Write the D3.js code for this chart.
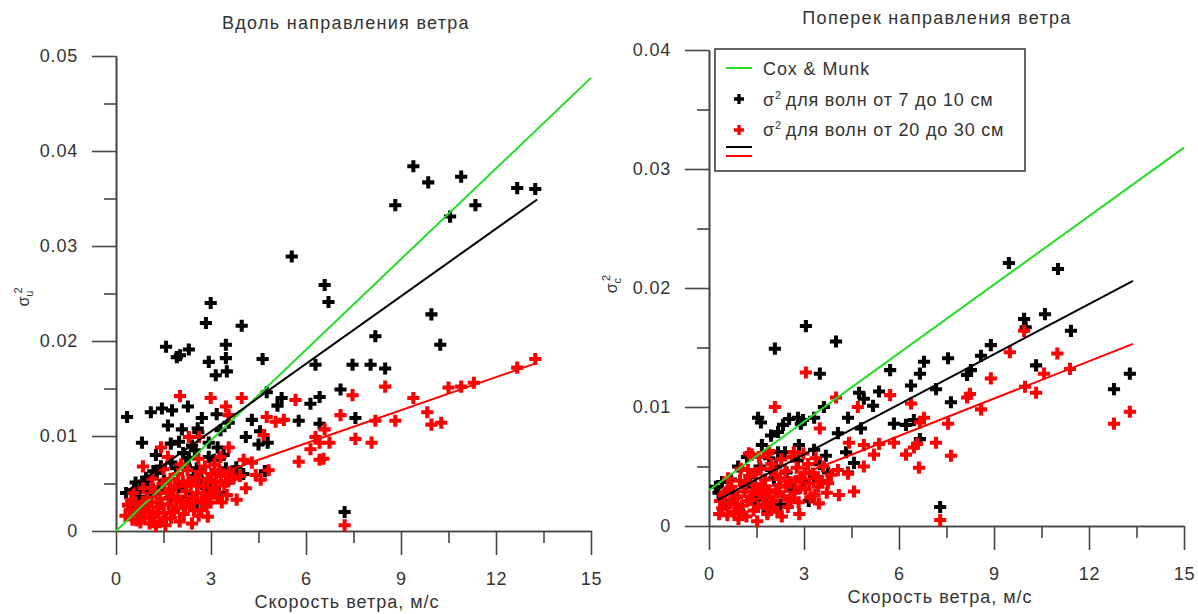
<!DOCTYPE html>
<html>
<head>
<meta charset="utf-8">
<script src="https://cdn.jsdelivr.net/npm/d3@7"></script>
<style>
body { margin: 0; background: #fff; }
svg text { font-family: "Liberation Sans", Arial, sans-serif; fill: #333; }
</style>
</head>
<body>
<svg id="chart" width="1198" height="614"></svg>
<script>
// ticks
const xTicks = [0, 3, 6, 9, 12, 15];
const xMinor = [1.5, 4.5, 7.5, 10.5, 13.5];
const yTicksLeft = [0, 0.01, 0.02, 0.03, 0.04, 0.05];
const yMinorLeft = [0.005, 0.015, 0.025, 0.035, 0.045];
const yTicksRight = [0, 0.01, 0.02, 0.03, 0.04];
const yMinorRight = [0.005, 0.015, 0.025, 0.035];

const titles = ["Вдоль направления ветра", "Поперек направления ветра"];
const xTitle = "Скорость ветра, м/с";
const legendLabels = ["Cox & Munk", "для волн от 7 до 10 см", "для волн от 20 до 30 см"];

// fitted lines [wind, sigma^2]
const coxMunkLeft = [[0, 0], [15, 0.0477]];
const fitBlackLeft = [[0.35, 0.0042], [13.3, 0.0349]];
const fitRedLeft = [[0.2, 0.0025], [13.3, 0.0177]];
const coxMunkRight = [[0, 0.0030], [15, 0.0318]];
const fitBlackRight = [[0.28, 0.0022], [13.39, 0.0206]];
const fitRedRight = [[0.4, 0.0017], [13.39, 0.0153]];

// upwind, waves 7-10 cm
const blackLeft = [
    [9.39, 0.0384], [9.86, 0.0367], [10.9, 0.0373], [8.82, 0.0343], [10.55, 0.0331], [11.35, 0.0343],
    [12.67, 0.0361], [13.24, 0.0360], [6.59, 0.0259], [6.71, 0.0241], [9.96, 0.0228], [10.24, 0.0196],
    [8.19, 0.0205], [6.3, 0.0175], [7.47, 0.0175], [8.04, 0.0175], [8.5, 0.0171], [7.09, 0.0149],
    [6.43, 0.0141], [6.14, 0.0134], [7.56, 0.0119], [5.77, 0.0116], [6.43, 0.0113], [7.22, 0.0020],
    [5.55, 0.0289], [2.99, 0.0240], [2.84, 0.0219], [3.97, 0.0216], [1.58, 0.0194], [1.92, 0.0183],
    [2.02, 0.0185], [2.3, 0.0191], [3.47, 0.0196], [3.47, 0.0182], [2.93, 0.0178], [3.15, 0.0164],
    [3.5, 0.0168], [4.63, 0.0181], [0.35, 0.0120], [1.1, 0.0125], [1.45, 0.0129], [1.77, 0.0127],
    [2.27, 0.0131], [1.64, 0.0111], [2.08, 0.0107], [0.82, 0.0093], [2.58, 0.0108], [2.71, 0.0119],
    [3.18, 0.0123], [3.56, 0.0114], [4.76, 0.0146], [5.23, 0.0140], [5.1, 0.0132], [4.29, 0.0117],
    [4.1, 0.0099], [4.5, 0.0091], [4.79, 0.0093], [1.26, 0.0080], [1.99, 0.0094], [1.73, 0.0092],
    [2.93, 0.0093], [3.21, 0.0088], [2.93, 0.0078], [2.49, 0.0085], [2.3, 0.0077], [4.55, 0.0105],
    [3.3, 0.0106], [2.6, 0.0104], [0.32, 0.0040], [0.57, 0.0043], [0.79, 0.0046], [1.04, 0.0048],
    [0.73, 0.0036], [1.29, 0.0061], [0.95, 0.0056], [1.1, 0.0041], [1.36, 0.0043], [1.9, 0.0066],
    [2.2, 0.0069], [2.55, 0.0066], [3.47, 0.0066], [3.8, 0.0067], [3.78, 0.0061], [2.55, 0.0030],
    [3.02, 0.0048], [3.25, 0.0040], [1.98, 0.0046], [0.5, 0.0030], [0.62, 0.0051], [1.52, 0.0053],
    [1.7, 0.0035], [2.7, 0.0055], [2.45, 0.0058], [3.6, 0.0055], [4.7, 0.0063], [1.42, 0.0068],
    [1.75, 0.0072], [2.12, 0.0082], [2.4, 0.0090], [2.31, 0.0036], [2.84, 0.0045], [3.1, 0.0075],
    [3.4, 0.0080], [0.88, 0.0052], [1.18, 0.0063], [4.02, 0.0060]
];

// upwind, waves 20-30 cm
const redLeft = [
    [13.24, 0.0181], [12.67, 0.0172], [11.3, 0.0156], [10.9, 0.0152], [10.5, 0.0151], [8.5, 0.0152],
    [9.39, 0.0140], [9.83, 0.0125], [9.96, 0.0112], [10.27, 0.0114], [8.82, 0.0116], [8.19, 0.0116],
    [7.47, 0.0143], [7.09, 0.0122], [8.07, 0.0093], [7.56, 0.0097], [6.59, 0.0107], [6.3, 0.0099],
    [6.74, 0.0093], [6.43, 0.0093], [6.14, 0.0086], [6.43, 0.0075], [6.55, 0.0076], [5.77, 0.0073],
    [7.22, 0.0006], [2.02, 0.0142], [2.99, 0.0140], [3.97, 0.0140], [3.47, 0.0131], [3.56, 0.0122],
    [4.76, 0.0120], [5.04, 0.0115], [5.3, 0.0117], [5.67, 0.0138], [2.3, 0.0099], [2.62, 0.0099],
    [1.42, 0.0088], [1.64, 0.0078], [3.56, 0.0088], [4.66, 0.0101], [0.85, 0.0068], [4.03, 0.0075],
    [4.29, 0.0072], [4.82, 0.0064], [4.41, 0.0059], [4.57, 0.0054], [4.1, 0.0045], [3.5, 0.0038],
    [3.81, 0.0033], [3.34, 0.0030],
    [0.3, 0.0016], [0.44, 0.0022], [0.52, 0.0012], [0.61, 0.0030], [0.68, 0.0018], [0.77, 0.0009],
    [0.83, 0.0025], [0.9, 0.0014], [0.97, 0.0035], [1.02, 0.0021], [1.06, 0.0008], [1.13, 0.0030],
    [1.2, 0.0016], [1.24, 0.0042], [1.31, 0.0025], [1.37, 0.0010], [1.4, 0.0034], [1.47, 0.0050],
    [1.51, 0.0019], [1.56, 0.0006], [1.62, 0.0040], [1.66, 0.0028], [1.72, 0.0055], [1.74, 0.0014],
    [1.81, 0.0036], [1.86, 0.0047], [1.91, 0.0024], [1.96, 0.0060], [2.01, 0.0010], [2.06, 0.0032],
    [2.11, 0.0052], [2.14, 0.0018], [2.21, 0.0042], [2.26, 0.0064], [2.32, 0.0028], [2.36, 0.0048],
    [2.41, 0.0036], [2.46, 0.0022], [2.51, 0.0056], [2.56, 0.0040], [2.61, 0.0016], [2.66, 0.0062],
    [2.72, 0.0032], [2.76, 0.0047], [2.81, 0.0068], [2.86, 0.0026], [2.91, 0.0054], [2.95, 0.0038],
    [3.01, 0.0060], [3.06, 0.0045], [3.11, 0.0070], [3.16, 0.0052], [3.22, 0.0035], [3.31, 0.0058],
    [3.42, 0.0048], [3.57, 0.0062], [3.71, 0.0055], [3.92, 0.0058], [1.15, 0.0055], [0.55, 0.0040],
    [2.05, 0.0070], [1.5, 0.0065], [2.6, 0.0076], [3.3, 0.0078], [1.26, 0.0005], [0.86, 0.0045],
    [2.4, 0.0008], [2.9, 0.0015],
    [0.38, 0.0028], [0.65, 0.0011], [0.72, 0.0024], [0.92, 0.0029], [1.08, 0.0015], [1.33, 0.0019],
    [1.44, 0.0028], [1.58, 0.0013], [1.69, 0.0044], [1.83, 0.0020], [1.94, 0.0034], [2.18, 0.0026],
    [2.29, 0.0052], [2.44, 0.0030], [2.58, 0.0048], [2.69, 0.0022], [2.83, 0.0036], [2.97, 0.0030],
    [3.14, 0.0042], [3.26, 0.0064], [3.48, 0.0052], [1.1, 0.0045], [0.48, 0.0033]
];

// crosswind, waves 7-10 cm
const blackRight = [
    [9.47, 0.0221], [11.02, 0.0216], [9.95, 0.0174], [10.0, 0.0167], [10.61, 0.0178], [11.43, 0.0164],
    [10.33, 0.0135], [8.9, 0.0152], [8.59, 0.0143], [8.27, 0.0131], [8.15, 0.0127], [7.55, 0.0141],
    [6.79, 0.0138], [6.66, 0.0128], [6.38, 0.0118], [5.72, 0.0131], [7.17, 0.0115], [7.64, 0.0104],
    [5.84, 0.0086], [6.22, 0.0085], [6.47, 0.0089], [6.66, 0.0073], [12.79, 0.0115], [13.29, 0.0128],
    [7.3, 0.0016], [3.06, 0.0168], [2.08, 0.0149], [4.01, 0.0155], [3.5, 0.0128], [4.74, 0.0112],
    [4.89, 0.0107], [5.18, 0.0101], [5.37, 0.0113], [3.63, 0.0100], [4.39, 0.0091], [4.8, 0.0082],
    [4.07, 0.0078], [3.32, 0.0091], [1.55, 0.0091], [1.64, 0.0087], [2.34, 0.0085], [2.53, 0.0090],
    [2.81, 0.0091], [2.97, 0.0089], [2.9, 0.0086], [1.96, 0.0076], [2.18, 0.0079], [1.67, 0.0068],
    [1.2, 0.0058], [0.92, 0.0050], [0.41, 0.0037], [0.69, 0.0039], [0.22, 0.0033], [2.84, 0.0068],
    [2.18, 0.0062], [1.96, 0.0047], [2.12, 0.0050], [3.32, 0.0064], [3.69, 0.0059], [4.33, 0.0062],
    [4.58, 0.0053], [3.76, 0.0045], [4.39, 0.0045], [3.32, 0.0041],
    [0.3, 0.0028], [0.55, 0.0018], [0.75, 0.0028], [0.95, 0.0013], [1.15, 0.0033], [1.3, 0.0041],
    [1.45, 0.0022], [1.6, 0.0050], [1.75, 0.0031], [1.85, 0.0012], [2.05, 0.0040], [2.25, 0.0018],
    [2.45, 0.0045], [2.65, 0.0030], [2.8, 0.0055], [3.0, 0.0038], [3.15, 0.0021], [3.5, 0.0052],
    [2.4, 0.0062], [1.9, 0.0057]
];

// crosswind, waves 20-30 cm
const redRight = [
    [9.95, 0.0164], [11.0, 0.0145], [9.5, 0.0146], [8.9, 0.0124], [10.58, 0.0128], [11.4, 0.0132],
    [9.98, 0.0117], [10.33, 0.0112], [8.24, 0.0111], [8.15, 0.0108], [8.59, 0.0098], [7.55, 0.0086],
    [6.79, 0.0091], [6.66, 0.0087], [6.38, 0.0103], [5.72, 0.0110], [5.84, 0.0070], [6.22, 0.0060],
    [6.47, 0.0066], [6.57, 0.0069], [6.63, 0.0049], [7.17, 0.0070], [7.64, 0.0059], [12.79, 0.0086],
    [13.29, 0.0096], [7.3, 0.0005], [3.06, 0.0129], [2.08, 0.0100], [4.01, 0.0108], [3.5, 0.0082],
    [4.7, 0.0100], [4.42, 0.0070], [4.89, 0.0068], [5.21, 0.0060], [4.89, 0.0050], [4.07, 0.0047],
    [4.39, 0.0044], [4.58, 0.0029], [4.1, 0.0026], [3.47, 0.0019], [3.76, 0.0036], [3.44, 0.0041],
    [1.26, 0.0061], [1.58, 0.0058], [1.86, 0.0061], [1.23, 0.0047], [2.68, 0.0062], [5.37, 0.0069],
    [0.35, 0.0021], [0.42, 0.0015], [0.5, 0.0028], [0.58, 0.0009], [0.66, 0.0019], [0.71, 0.0033],
    [0.8, 0.0012], [0.86, 0.0025], [0.93, 0.0006], [0.98, 0.0038], [1.05, 0.0017], [1.12, 0.0029],
    [1.18, 0.0008], [1.27, 0.0042], [1.33, 0.0022], [1.41, 0.0013], [1.46, 0.0035], [1.52, 0.0004],
    [1.58, 0.0027], [1.63, 0.0048], [1.71, 0.0018], [1.77, 0.0039], [1.84, 0.0010], [1.9, 0.0030],
    [1.97, 0.0052], [2.03, 0.0021], [2.09, 0.0043], [2.16, 0.0012], [2.22, 0.0034], [2.28, 0.0056],
    [2.35, 0.0025], [2.41, 0.0046], [2.49, 0.0016], [2.55, 0.0037], [2.62, 0.0058], [2.7, 0.0028],
    [2.77, 0.0049], [2.83, 0.0020], [2.91, 0.0040], [2.98, 0.0061], [3.05, 0.0031], [3.13, 0.0052],
    [3.2, 0.0024], [3.28, 0.0044], [3.37, 0.0057], [3.45, 0.0033], [3.6, 0.0050], [3.72, 0.0028],
    [3.85, 0.0043], [1.0, 0.0048], [0.6, 0.0040], [2.3, 0.0008], [1.35, 0.0060], [2.85, 0.0010],
    [1.9, 0.0063],
    [0.32, 0.0010], [0.46, 0.0026], [0.62, 0.0031], [0.75, 0.0022], [0.89, 0.0018], [1.02, 0.0011],
    [1.16, 0.0036], [1.22, 0.0021], [1.38, 0.0029], [1.55, 0.0016], [1.68, 0.0033], [1.8, 0.0024],
    [1.95, 0.0015], [2.12, 0.0028], [2.25, 0.0040], [2.44, 0.0033], [2.58, 0.0022], [2.74, 0.0038],
    [2.88, 0.0032], [3.02, 0.0045], [3.17, 0.0036], [3.33, 0.0026], [3.52, 0.0038], [1.48, 0.0044],
    [2.0, 0.0048]
];

const GREEN = "#22dd22", RED = "#ff0000", BLACK = "#000", AXIS = "#444";
const svg = d3.select("#chart");
const plus = d3.symbol().type(d3.symbolCross);

function fmt(d) {
    return d === 0 ? "0" : d3.format(".2f")(d);
}

function drawPanel(p) {
    let x = d3.scaleLinear().domain([0, 15]).range([p.left, p.left + 475]);
    let y = d3.scaleLinear().domain([0, p.yMax]).range([p.bottom, p.top]);
    let g = svg.append("g");

    // minor ticks first, then major with labels
    g.append("g").attr("transform", `translate(0,${p.bottom})`)
        .call(d3.axisBottom(x).tickValues(xMinor).tickSize(12).tickSizeOuter(0).tickFormat(""));
    g.append("g").attr("transform", `translate(${p.left},0)`)
        .call(d3.axisLeft(y).tickValues(p.yMinor).tickSize(12).tickSizeOuter(0).tickFormat(""));

    g.append("g").attr("transform", `translate(0,${p.bottom})`)
        .call(d3.axisBottom(x).tickValues(xTicks).tickSize(24).tickSizeOuter(0).tickPadding(17));
    g.append("g").attr("transform", `translate(${p.left},0)`)
        .call(d3.axisLeft(y).tickValues(p.yTicks).tickSize(24).tickSizeOuter(0).tickPadding(14).tickFormat(fmt));

    g.selectAll(".domain, .tick line").attr("stroke", AXIS).attr("stroke-width", 1.6);
    g.selectAll(".tick text").style("font-size", "18px").style("letter-spacing", "0.8px").attr("fill", "#333");

    // points
    g.append("g").selectAll("path").data(p.black).join("path")
        .attr("transform", d => `translate(${x(d[0])},${y(d[1])})`)
        .attr("d", plus.size(82)).attr("fill", BLACK);
    g.append("g").selectAll("path").data(p.red).join("path")
        .attr("transform", d => `translate(${x(d[0])},${y(d[1])})`)
        .attr("d", plus.size(82)).attr("fill", RED);

    let line = d3.line().x(d => x(d[0])).y(d => y(d[1]));
    [[p.cox, GREEN], [p.fitBlack, BLACK], [p.fitRed, RED]].forEach(function(l) {
        g.append("path").attr("d", line(l[0])).attr("fill", "none")
            .attr("stroke", l[1]).attr("stroke-width", 2);
    });

    // titles
    g.append("text").attr("x", p.titleX).attr("y", p.titleY).attr("text-anchor", "middle")
        .style("font-size", "18px").style("letter-spacing", "1.3px").text(p.title);
    g.append("text").attr("x", p.left + 231).attr("y", p.bottom + 77).attr("text-anchor", "middle")
        .style("font-size", "18px").style("letter-spacing", "1px").text(xTitle);

    let yl = g.append("text").attr("transform", `translate(${p.yLabelX},${p.yLabelY}) rotate(-90)`)
        .attr("text-anchor", "middle").style("font-size", "16px");
    yl.append("tspan").text("σ");
    yl.append("tspan").attr("dy", 4).style("font-size", "11px").text(p.sub);
    yl.append("tspan").attr("dy", -11).attr("dx", -3).style("font-size", "11px").text("2");
}

drawPanel({
    left: 116, bottom: 531, top: 56, yMax: 0.05,
    yTicks: yTicksLeft, yMinor: yMinorLeft,
    black: blackLeft, red: redLeft,
    cox: coxMunkLeft, fitBlack: fitBlackLeft, fitRed: fitRedLeft,
    title: titles[0], titleX: 346, titleY: 29,
    yLabelX: 29, yLabelY: 297, sub: "u"
});

drawPanel({
    left: 709, bottom: 526, top: 50, yMax: 0.04,
    yTicks: yTicksRight, yMinor: yMinorRight,
    black: blackRight, red: redRight,
    cox: coxMunkRight, fitBlack: fitBlackRight, fitRed: fitRedRight,
    title: titles[1], titleX: 937, titleY: 24,
    yLabelX: 617, yLabelY: 284, sub: "c"
});

// legend
let lg = svg.append("g");
lg.append("rect").attr("x", 715).attr("y", 49).attr("width", 310).attr("height", 122)
    .attr("fill", "#fff").attr("stroke", "#333").attr("stroke-width", 1.5);
lg.append("line").attr("x1", 726).attr("x2", 752).attr("y1", 68).attr("y2", 68)
    .attr("stroke", GREEN).attr("stroke-width", 2);
lg.append("line").attr("x1", 726).attr("x2", 752).attr("y1", 147).attr("y2", 147)
    .attr("stroke", BLACK).attr("stroke-width", 2);
lg.append("line").attr("x1", 726).attr("x2", 752).attr("y1", 156).attr("y2", 156)
    .attr("stroke", RED).attr("stroke-width", 2);
lg.append("path").attr("transform", "translate(739,99)").attr("d", plus.size(55)).attr("fill", BLACK);
lg.append("path").attr("transform", "translate(739,130)").attr("d", plus.size(55)).attr("fill", RED);

lg.append("text").attr("x", 763).attr("y", 75).style("font-size", "18px")
    .style("letter-spacing", "0.9px").text(legendLabels[0]);
[legendLabels[1], legendLabels[2]].forEach(function(lbl, i) {
    let t = lg.append("text").attr("x", 763).attr("y", 106 + i * 30).style("font-size", "18px")
        .style("letter-spacing", "0.8px");
    t.append("tspan").text("σ");
    t.append("tspan").attr("dy", -7).style("font-size", "11px").text("2");
    t.append("tspan").attr("dy", 7).attr("dx", 4).text(lbl);
});
</script>
</body>
</html>
